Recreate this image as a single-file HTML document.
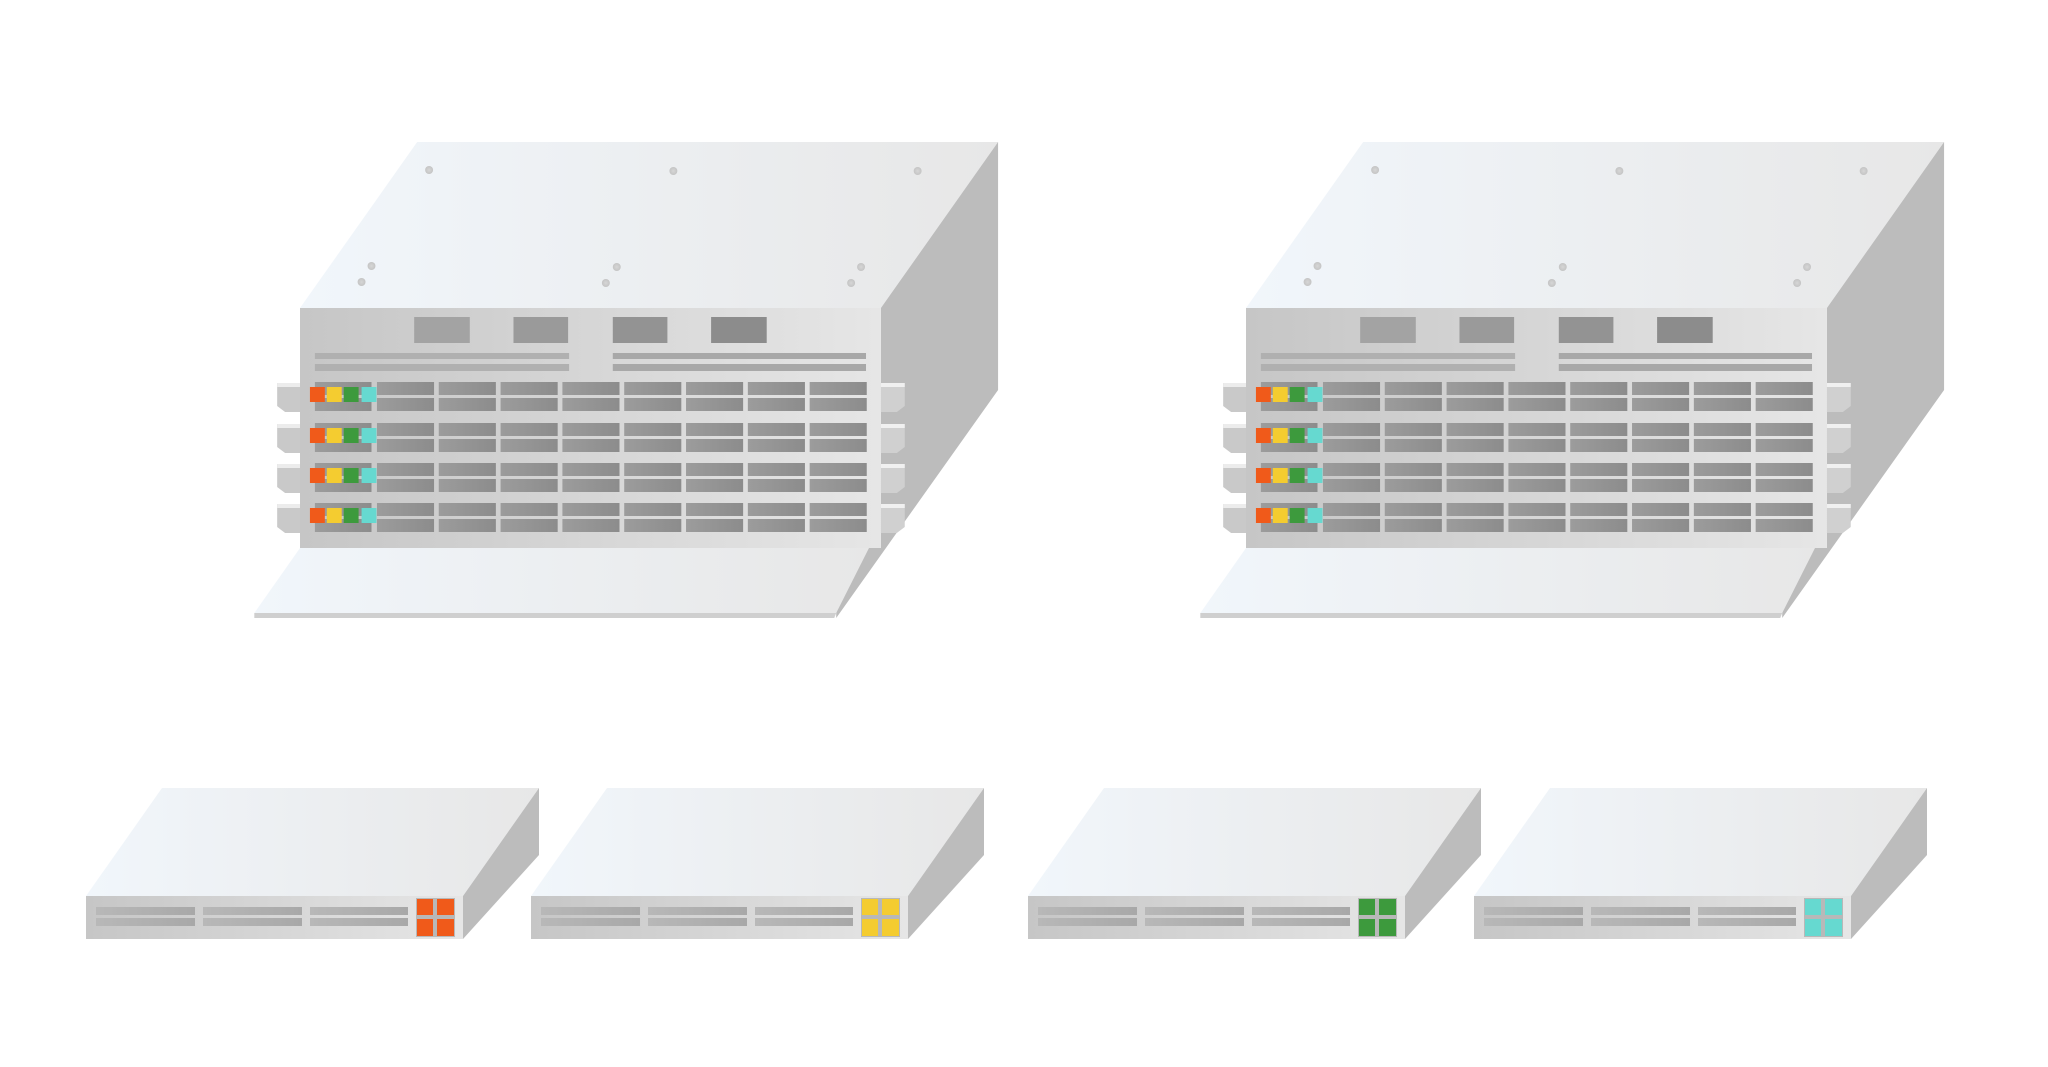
<!DOCTYPE html>
<html><head><meta charset="utf-8"><style>html,body{margin:0;padding:0;background:#fff;}svg{display:block}</style></head>
<body>
<svg width="2048" height="1067" viewBox="0 0 2048 1067" xmlns="http://www.w3.org/2000/svg">
<defs>
<linearGradient id="top" x1="0" x2="1" y1="0" y2="0"><stop offset="0" stop-color="#f1f6fb"/><stop offset="1" stop-color="#e7e7e7"/></linearGradient>
<linearGradient id="front" x1="0" x2="1" y1="0" y2="0"><stop offset="0" stop-color="#c6c6c6"/><stop offset="1" stop-color="#e6e6e6"/></linearGradient>
<linearGradient id="bar" x1="0" x2="1" y1="0" y2="0"><stop offset="0" stop-color="#9c9c9c"/><stop offset="1" stop-color="#8c8c8c"/></linearGradient>
<linearGradient id="sbar" x1="0" x2="1" y1="0" y2="0"><stop offset="0" stop-color="#b8b8b8"/><stop offset="1" stop-color="#a8a8a8"/></linearGradient>
<radialGradient id="hole"><stop offset="0" stop-color="#d6d6d6"/><stop offset="1" stop-color="#c4c4c4"/></radialGradient>

<g id="row">
  <rect x="315" y="0" width="57" height="13" fill="url(#bar)"/>
  <rect x="315" y="16" width="57" height="13" fill="url(#bar)"/>
  <g>
    <rect x="377.5" y="0" width="57.5" height="13" fill="url(#bar)"/><rect x="377.5" y="16" width="57.5" height="13" fill="url(#bar)"/>
    <rect x="439.75" y="0" width="57.5" height="13" fill="url(#bar)"/><rect x="439.75" y="16" width="57.5" height="13" fill="url(#bar)"/>
    <rect x="502" y="0" width="57.5" height="13" fill="url(#bar)"/><rect x="502" y="16" width="57.5" height="13" fill="url(#bar)"/>
    <rect x="564.25" y="0" width="57.5" height="13" fill="url(#bar)"/><rect x="564.25" y="16" width="57.5" height="13" fill="url(#bar)"/>
    <rect x="626.5" y="0" width="57.5" height="13" fill="url(#bar)"/><rect x="626.5" y="16" width="57.5" height="13" fill="url(#bar)"/>
    <rect x="688.75" y="0" width="57.5" height="13" fill="url(#bar)"/><rect x="688.75" y="16" width="57.5" height="13" fill="url(#bar)"/>
    <rect x="751" y="0" width="57.5" height="13" fill="url(#bar)"/><rect x="751" y="16" width="57.5" height="13" fill="url(#bar)"/>
    <rect x="813.25" y="0" width="57.5" height="13" fill="url(#bar)"/><rect x="813.25" y="16" width="57.5" height="13" fill="url(#bar)"/>
  </g>
  <rect x="310" y="5" width="15" height="15" fill="#f05a1a"/>
  <rect x="327" y="5" width="15" height="15" fill="#f4cc30"/>
  <rect x="344" y="5" width="15" height="15" fill="#3d9a3d"/>
  <rect x="362" y="5" width="15" height="15" fill="#66d9d0"/>
  <polygon points="277,1 300,1 300,30 285,30 277,24" fill="#c9c9c9"/>
  <rect x="277" y="1" width="23" height="4" fill="#ececec"/>
  <polygon points="885,1 909,1 909,24 901,30 885,30" fill="#d0d0d0"/>
  <rect x="885" y="1" width="24" height="4" fill="#f0f0f0"/>
</g>

<g id="chassis">
  <polygon points="418,142 1003,142 885,308 300,308" fill="url(#top)"/>
  <polygon points="885,308 1003,142 1003,390 840,618 840,548 885,548" fill="#bcbcbc"/>
  <polygon points="300,548 873,548 840,613 254,613" fill="url(#top)"/>
  <polygon points="254,613 840,613 838,618 254,618" fill="#cfcfcf"/>
  <rect x="300" y="308" width="585" height="240" fill="url(#front)"/>
  <circle cx="430" cy="170" r="4" fill="url(#hole)"/><circle cx="676" cy="171" r="4" fill="url(#hole)"/><circle cx="922" cy="171" r="4" fill="url(#hole)"/>
  <circle cx="372" cy="266" r="4" fill="url(#hole)"/><circle cx="619" cy="267" r="4" fill="url(#hole)"/><circle cx="865" cy="267" r="4" fill="url(#hole)"/>
  <circle cx="362" cy="282" r="4" fill="url(#hole)"/><circle cx="608" cy="283" r="4" fill="url(#hole)"/><circle cx="855" cy="283" r="4" fill="url(#hole)"/>
  <rect x="415" y="317" width="56" height="26" fill="#a3a3a3"/>
  <rect x="515" y="317" width="55" height="26" fill="#9a9a9a"/>
  <rect x="615" y="317" width="55" height="26" fill="#939393"/>
  <rect x="714" y="317" width="56" height="26" fill="#8c8c8c"/>
  <rect x="315" y="353" width="256" height="6" fill="#b0b0b0"/>
  <rect x="315" y="364" width="256" height="7" fill="#b0b0b0"/>
  <rect x="615" y="353" width="255" height="6" fill="#a8a8a8"/>
  <rect x="615" y="364" width="255" height="7" fill="#a8a8a8"/>
  <use href="#row" transform="translate(0,382)"/>
  <use href="#row" transform="translate(0,423)"/>
  <use href="#row" transform="translate(0,463)"/>
  <use href="#row" transform="translate(0,503)"/>
</g>

<g id="sw">
  <polygon points="162,788 539,788 463,896 86,896" fill="url(#top)"/>
  <polygon points="463,896 539,788 539,855 463,939" fill="#bcbcbc"/>
  <rect x="86" y="896" width="377" height="43" fill="url(#front)"/>
  <rect x="96" y="907" width="99" height="8" fill="url(#sbar)"/><rect x="96" y="918" width="99" height="8" fill="url(#sbar)"/>
  <rect x="203" y="907" width="99" height="8" fill="url(#sbar)"/><rect x="203" y="918" width="99" height="8" fill="url(#sbar)"/>
  <rect x="310" y="907" width="98" height="8" fill="url(#sbar)"/><rect x="310" y="918" width="98" height="8" fill="url(#sbar)"/>
  <rect x="416" y="898" width="39" height="39" fill="#b8b8b8"/>
</g>
</defs>

<use href="#chassis" transform="translate(300,0) scale(0.993,1) translate(-300,0)"/>
<use href="#chassis" transform="translate(1246,0) scale(0.993,1) translate(-300,0)"/>

<use href="#sw"/>
<g fill="#f05a1a"><rect x="417" y="899" width="16" height="16"/><rect x="437" y="899" width="17" height="16"/><rect x="417" y="919" width="16" height="17"/><rect x="437" y="919" width="17" height="17"/></g>
<use href="#sw" transform="translate(445,0)"/>
<g fill="#f4cc30" transform="translate(445,0)"><rect x="417" y="899" width="16" height="16"/><rect x="437" y="899" width="17" height="16"/><rect x="417" y="919" width="16" height="17"/><rect x="437" y="919" width="17" height="17"/></g>
<use href="#sw" transform="translate(942,0)"/>
<g fill="#3d9a3d" transform="translate(942,0)"><rect x="417" y="899" width="16" height="16"/><rect x="437" y="899" width="17" height="16"/><rect x="417" y="919" width="16" height="17"/><rect x="437" y="919" width="17" height="17"/></g>
<use href="#sw" transform="translate(1388,0)"/>
<g fill="#66d9d0" transform="translate(1388,0)"><rect x="417" y="899" width="16" height="16"/><rect x="437" y="899" width="17" height="16"/><rect x="417" y="919" width="16" height="17"/><rect x="437" y="919" width="17" height="17"/></g>
</svg>
</body></html>
